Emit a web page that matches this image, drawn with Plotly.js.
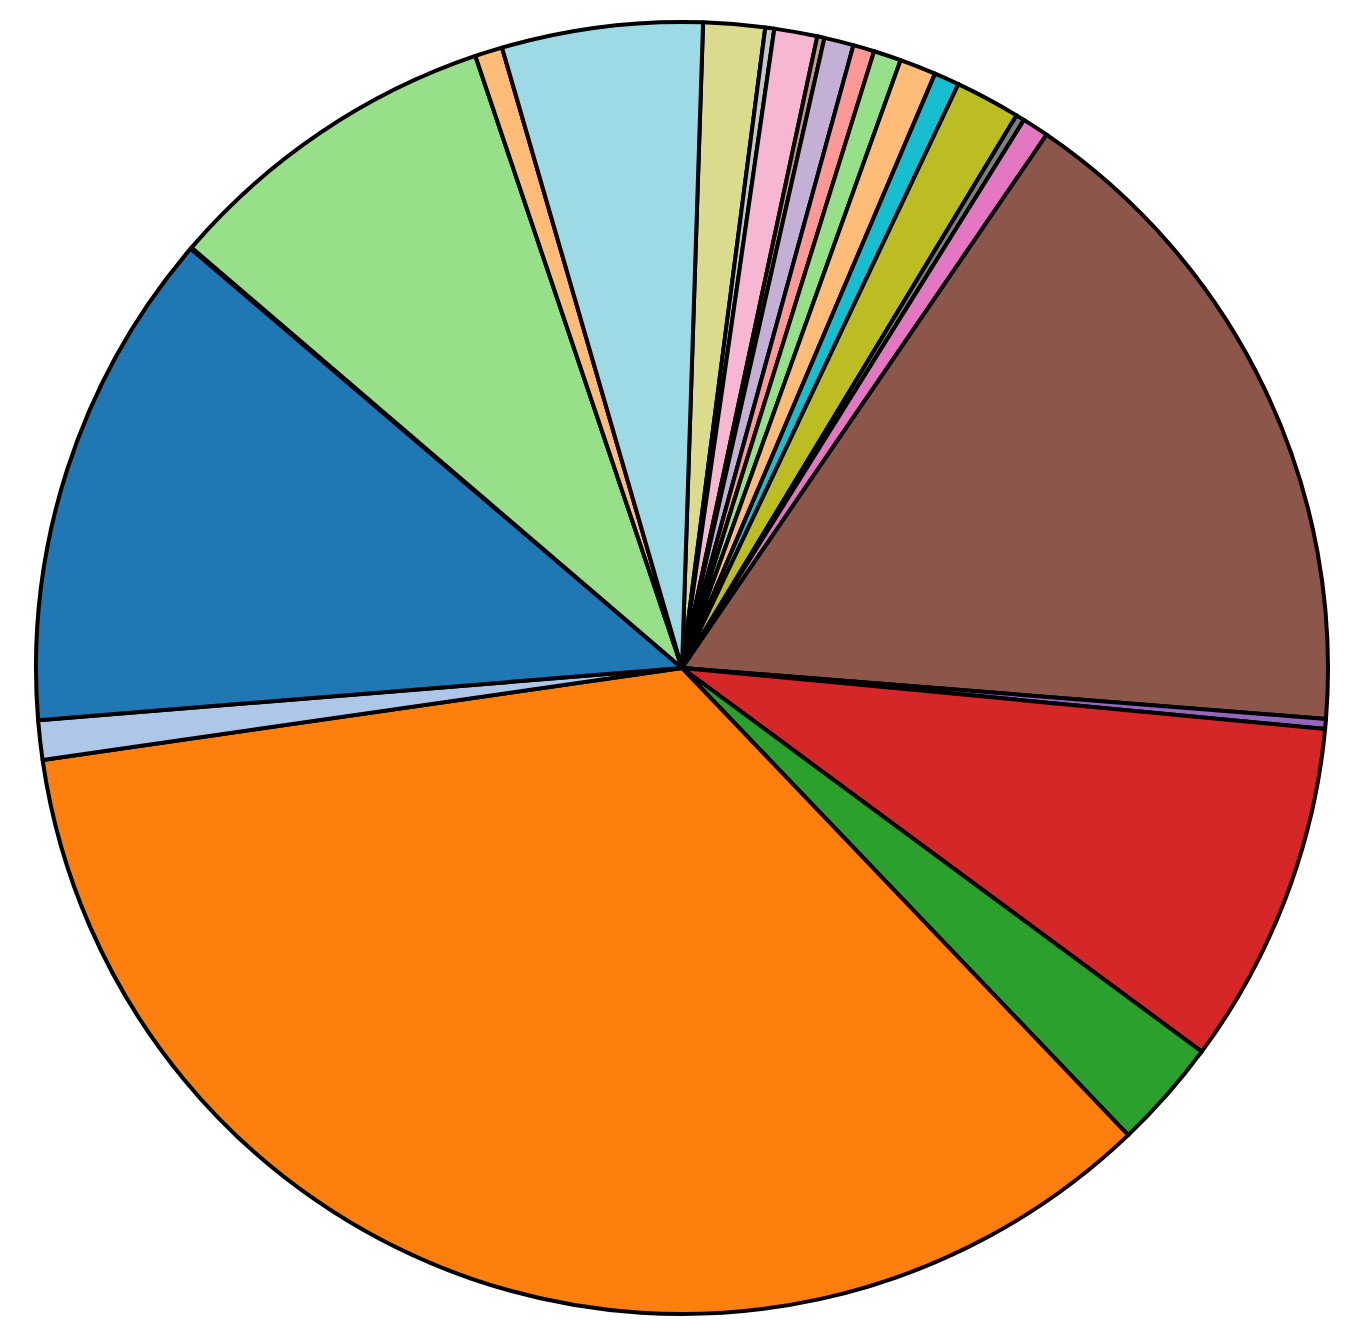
<!DOCTYPE html>
<html>
<head>
<meta charset="utf-8">
<script src="https://cdn.plot.ly/plotly-3.0.1.min.js"></script>
<style>
  body { margin: 0; background: #fff; }
  #chart { width: 1354px; height: 1331px; }
</style>
</head>
<body>
<div id="chart"></div>
<script>
// slices, clockwise from the top (sizes, in degrees)
const sliceNames = [
  'A1', 'A2', 'A3', 'A4', 'A5', 'A6', 'A7', 'A8', 'A9', 'A10', 'A11', 'A12',
  'A13', 'A14', 'A15', 'A16', 'A17', 'A18', 'A19', 'A20', 'A21', 'A22', 'A23'
];
const sliceValues = [
  5.54, 0.81, 3.87, 0.65, 2.65, 1.91, 2.48, 3.28, 2.27, 5.86, 0.77, 2.40,
  60.17, 0.89, 31.02, 9.88, 125.5, 3.55, 45.12, 0.12, 30.74, 2.48, 18.05
];
const sliceColors = [
  '#dbdb8d', '#c7c7c7', '#f7b6d2', '#c49c94', '#c5b0d5', '#ff9896', '#98df8a', '#ffbb78',
  '#17becf', '#bcbd22', '#7f7f7f', '#e377c2', '#8c564b', '#9467bd', '#d62728', '#2ca02c',
  '#ff7f0e', '#aec7e8', '#1f77b4', '#8c564b', '#98df8a', '#ffbb78', '#9edae5'
];

const trace = {
  type: 'pie',
  labels: sliceNames,
  values: sliceValues,
  sort: false,
  direction: 'clockwise',
  rotation: 1.87,
  textinfo: 'none',
  hoverinfo: 'label+percent',
  marker: { colors: sliceColors, line: { color: '#000000', width: 4 } }
};

const layout = {
  width: 1354,
  height: 1331,
  margin: { t: 22, b: 17, l: 36, r: 26 },
  showlegend: false,
  paper_bgcolor: '#ffffff'
};

Plotly.newPlot('chart', [trace], layout, { displayModeBar: false });
</script>
</body>
</html>
